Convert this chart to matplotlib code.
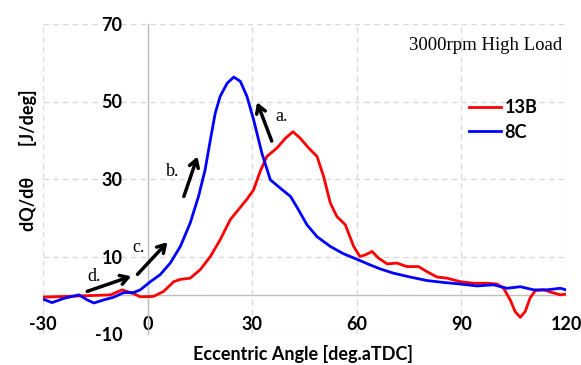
import matplotlib
matplotlib.use("Agg")
import matplotlib.pyplot as plt

plt.rcParams["axes.unicode_minus"] = False

# 13B (red)
x_13b = [-30, -23.5, -17, -10.6, -7.3, -4, -2.1, 1.7, 4.6, 7.5, 9.4, 12.2, 15.1, 18, 20.8,
         23.7, 26.6, 28.5, 30.4, 32.3, 34.2, 37.1, 39.5, 41.7, 43.8, 46.2, 48.6, 50.5, 52.4,
         54.3, 56.7, 59.1, 60.9, 62.4, 64.4, 66.2, 68.7, 71.5, 74.4, 77.7, 80.1, 83, 85.9,
         89.7, 93.5, 97.3, 100.2, 102.1, 104, 105.4, 106.9, 108.3, 109.7, 111.2, 113.6,
         116, 118.4, 120]
y_13b = [-0.5, -0.3, -0.1, 0.1, 1.4, 0.4, -0.4, -0.3, 1.0, 3.5, 4.1, 4.4, 6.6, 10.0, 14.3,
         19.5, 22.7, 24.8, 27.2, 32.0, 35.8, 38.0, 40.5, 42.2, 40.5, 38.0, 35.8, 30.6, 23.8,
         20.3, 18.2, 12.6, 10.0, 10.4, 11.3, 9.6, 8.1, 8.3, 7.4, 7.4, 6.1, 4.7, 4.4,
         3.5, 3.1, 3.1, 2.9, 1.8, -1.2, -4.2, -5.7, -4.2, -0.7, 1.2, 1.4,
         0.7, 0.1, 0.3]

# 8C (blue)
x_8c = [-30, -27.4, -24, -19.7, -17.3, -15.4, -12.6, -9.7, -6.8, -4, -2.1, 0.8, 3.6, 6.5,
        9.4, 12.2, 14.6, 16.5, 18, 19.4, 20.8, 22.8, 24.7, 26.6, 28.5, 30.4, 32.8, 35.2,
        38.1, 41, 43.3, 45.7, 48.6, 52.4, 56.2, 60, 63.9, 66.7, 70.5, 75.3, 80.1, 84.9,
        89.7, 94.5, 99.2, 103.1, 106.9, 110.7, 114.5, 118.4, 120]
y_8c = [-1.0, -1.9, -0.8, 0.1, -1.2, -2.0, -1.2, -0.5, 0.7, 0.7, 1.4, 3.5, 5.3, 8.3,
        12.6, 18.6, 25.5, 32.4, 40.1, 47.0, 51.3, 54.7, 56.3, 55.2, 51.3, 45.3, 36.6, 29.8,
        27.6, 25.5, 22.0, 18.2, 15.1, 12.6, 10.7, 9.3, 7.8, 6.8, 5.7, 4.7, 3.8, 3.3,
        2.9, 2.4, 2.7, 1.8, 2.2, 1.4, 1.4, 1.8, 1.4]

x_ticks = [-30, 0, 30, 60, 90, 120]
y_ticks = [-10, 10, 30, 50, 70]

# arrow annotations: label, tail, head, label position
ann_labels = ["a.", "b.", "c.", "d."]
ann_tail = [(35.6, 39.8), (10.4, 25.5), (-2.9, 5.4), (-17.3, 1.0)]
ann_head = [(31.4, 49.8), (14.3, 35.8), (5.7, 13.7), (-4.7, 4.9)]
ann_text = [(38.3, 46.1), (7.1, 32.0), (-2.6, 12.4), (-15.3, 4.9)]

sans = ["Lato", "DejaVu Sans"]
serif = ["Liberation Serif", "DejaVu Serif"]

fig = plt.figure(figsize=(5.81, 3.65), dpi=100)
ax = fig.add_axes([43/581, 1-334/365, (566-43)/581, (334-24)/365])

ax.set_xlim(-30, 120)
ax.set_ylim(-10, 70)

ax.plot(x_13b, y_13b, color="#ff0000", lw=2, label="13B", zorder=3,
        solid_joinstyle="round")
ax.plot(x_8c, y_8c, color="#0000ff", lw=2, label="8C", zorder=3,
        solid_joinstyle="round")

for sp in ["top", "right"]:
    ax.spines[sp].set_visible(False)
ax.spines["bottom"].set_position(("data", 0))
ax.spines["left"].set_position(("data", 0))
for sp in ["bottom", "left"]:
    ax.spines[sp].set_color("#bfbfbf")
    ax.spines[sp].set_linewidth(1.0)

ax.set_xticks(x_ticks)
ax.set_yticks(y_ticks)
ax.tick_params(axis="x", length=0, pad=15, labelsize=13)
ax.tick_params(axis="y", length=0, pad=18, labelsize=13)
for lab in ax.get_xticklabels() + ax.get_yticklabels():
    lab.set_fontfamily(sans)
    lab.set_fontweight("bold")

ax.grid(True, color="#d9d9d9", linestyle=(0, (4, 3)), linewidth=1.0, zorder=0)
ax.set_axisbelow(True)

for lbl, t, h, p in zip(ann_labels, ann_tail, ann_head, ann_text):
    ax.annotate("", xy=h, xytext=t,
                arrowprops=dict(arrowstyle="->,head_length=0.55,head_width=0.33",
                                color="black", lw=2.5, shrinkA=0, shrinkB=0), zorder=4)
    ax.text(p[0], p[1], lbl, fontsize=13, family=serif, ha="center", va="center", zorder=4)

ax.text(0.992, 0.93, "3000rpm High Load", transform=ax.transAxes, ha="right", va="center",
        fontsize=13.5, family=serif)

leg = ax.legend(loc="upper left", bbox_to_anchor=(0.80, 0.78), frameon=False,
                prop={"family": sans, "weight": "bold", "size": 13},
                handlelength=1.8, handletextpad=0.2, labelspacing=0.4, borderaxespad=0)

fig.text(28/581, 1-160/365, "dQ/dθ       [J/deg]", rotation=90, ha="center", va="center",
         fontsize=13, fontweight="bold", family=sans)
fig.text(303/581, 1-354/365, "Eccentric Angle [deg.aTDC]", ha="center", va="center",
         fontsize=13, fontweight="bold", family=sans)

fig.savefig("out.png", dpi=100)
